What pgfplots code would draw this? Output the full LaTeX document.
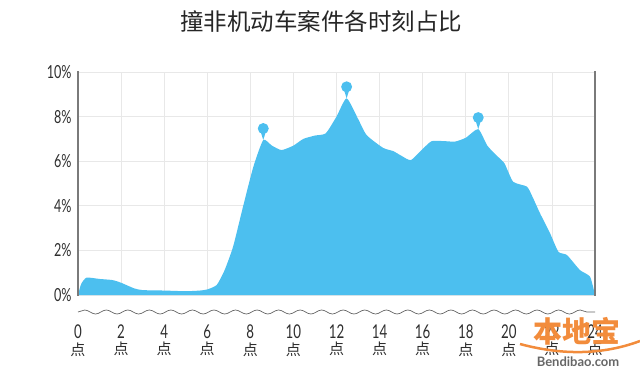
\documentclass[border=0pt]{standalone}
\usepackage{pgfplots}
\pgfplotsset{compat=1.18}
\usepackage{fontspec}
\setmainfont{Lato}
\newfontfamily\cjk{Noto Sans CJK SC}
\newfontfamily\numfont[FakeStretch=0.7]{Lato}
\usetikzlibrary{decorations.pathmorphing}
\definecolor{areablue}{HTML}{4CBFEF}
\definecolor{gridgray}{HTML}{E8E8E8}
\definecolor{axgray}{HTML}{7A7A7A}
\definecolor{txt}{HTML}{2E2E2E}
\definecolor{wmorange}{HTML}{F28C3C}
\pgfdeclareplotmark{pin}{%
  \pgfpathmoveto{\pgfpoint{0pt}{0pt}}%
  \pgfpathlineto{\pgfpoint{-2.5pt}{8pt}}%
  \pgfpathlineto{\pgfpoint{2.5pt}{8pt}}%
  \pgfpathclose\pgfusepathqfill
  \pgfpathcircle{\pgfpoint{0pt}{11.5pt}}{5.5pt}\pgfusepathqfill}
\newcommand\xl[1]{{\numfont\fontsize{19}{19}\selectfont #1}\\[3pt]{\cjk\fontsize{15}{15}\selectfont 点}}
\pgfplotstableread{
h v
0 0
0.15 0.5
0.4 0.78
1.0 0.72
1.6 0.67
2.0 0.55
2.6 0.3
3.0 0.22
4.0 0.2
5.0 0.17
5.66 0.2
6.0 0.25
6.44 0.45
6.8 1.1
7.2 2.17
7.66 3.96
8.14 5.75
8.6 6.95
9.0 6.7
9.45 6.5
10.0 6.7
10.46 7.0
11.0 7.15
11.5 7.25
12.0 8.0
12.47 8.82
13.0 7.9
13.4 7.17
14.16 6.6
14.64 6.45
15.0 6.25
15.45 6.05
16.0 6.55
16.42 6.9
17.0 6.9
17.5 6.88
18.0 7.05
18.58 7.44
19.0 6.7
19.44 6.25
19.8 5.9
20.2 5.08
20.84 4.86
21.1 4.4
21.45 3.66
21.9 2.8
22.3 1.94
22.7 1.79
23.3 1.12
23.77 0.82
24 0
}\datatable
\pgfplotstableread{
h v
8.6 6.95
12.47 8.82
18.58 7.44
}\peaks
\begin{document}
\begin{tikzpicture}
\path[use as bounding box] (-78pt,-78pt) rectangle (562pt,295pt);
\begin{axis}[
  at={(0,0)}, anchor=south west,
  scale only axis, width=517pt, height=223pt,
  xmin=0, xmax=24, ymin=0, ymax=10,
  axis line style={draw=none},
  major tick length=0pt,
  xtick={0,2,...,24}, ytick={0,2,...,10},
  xticklabels={\xl{0},\xl{2},\xl{4},\xl{6},\xl{8},\xl{10},\xl{12},\xl{14},\xl{16},\xl{18},\xl{20},\xl{22},\xl{24}},
  yticklabels={0\%,2\%,4\%,6\%,8\%,10\%},
  yticklabel style={font=\numfont\fontsize{18}{18}\selectfont, text=txt, xshift=-3pt},
  xticklabel style={align=center, anchor=north, text=txt, yshift=-26pt},
  grid=major, grid style={gridgray, line width=0.8pt},
  clip=false,
]
\addplot[fill=areablue, draw=none, smooth, tension=0.35] table[x=h,y=v]{\datatable} \closedcycle;
\addplot[only marks, mark=pin, color=areablue] table[x=h,y=v]{\peaks};
\end{axis}
\draw[axgray, line width=1.4pt] (0,-0.5pt) -- (0,224pt);
\draw[axgray, line width=1.4pt] (517pt,-0.5pt) -- (517pt,224pt);
\draw[gray!80!black, line width=0.7pt, decorate, decoration={snake, segment length=21.54pt, amplitude=2pt}] (0,-17pt) -- (517pt,-17pt);
\node[font=\cjk\fontsize{23.5}{23.5}\selectfont, text=black!85] at (243pt,273pt) {撞非机动车案件各时刻占比};
\draw[wmorange, line width=2.5pt] (442pt,-49pt) .. controls (490pt,-62pt) and (530pt,-58pt) .. (562pt,-46pt);
\node[font=\cjk\bfseries\fontsize{29}{29}\selectfont, text=wmorange] at (499pt,-36pt) {本地宝};
\node[font=\bfseries\fontsize{13}{13}\selectfont, text=black!60] at (500pt,-67pt) {Bendibao.com};
\end{tikzpicture}
\end{document}
